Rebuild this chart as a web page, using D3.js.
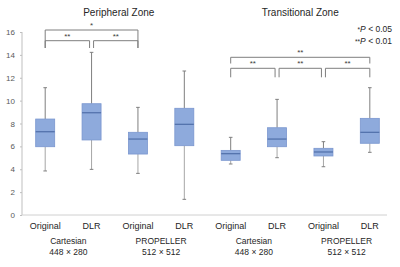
<!DOCTYPE html>
<html>
<head>
<meta charset="utf-8">
<script src="https://cdn.jsdelivr.net/npm/d3@7"></script>
<style>
  body { margin: 0; background: #fff; }
  svg { font-family: "Liberation Sans", Arial, sans-serif; }
  .axis path, .axis line { stroke: #bfbfbf; }
  .axis text { fill: #595959; font-size: 8px; }
</style>
</head>
<body>
<svg id="chart" width="400" height="267"></svg>
<script>
// box stats per group: [whiskerLow, q1, median, q3, whiskerHigh]
const groups = ['PZ-Cart-Orig', 'PZ-Cart-DLR', 'PZ-Prop-Orig', 'PZ-Prop-DLR',
                'TZ-Cart-Orig', 'TZ-Cart-DLR', 'TZ-Prop-Orig', 'TZ-Prop-DLR'];
const methodLabels = ['Original', 'DLR', 'Original', 'DLR', 'Original', 'DLR', 'Original', 'DLR'];
const boxStats = [
  [3.85, 5.97, 7.28, 8.39, 11.13],
  [3.99, 6.56, 8.94, 9.73, 14.22],
  [3.64, 5.33, 6.64, 7.23, 9.41],
  [1.37, 6.06, 7.93, 9.33, 12.59],
  [4.46, 4.78, 5.36, 5.65, 6.79],
  [5.01, 5.97, 6.64, 7.63, 10.11],
  [4.22, 5.16, 5.51, 5.83, 6.41],
  [5.48, 6.27, 7.23, 8.45, 11.13]
];
const yTicks = [0, 2, 4, 6, 8, 10, 12, 14, 16];
const sequences = [
  { label: 'Cartesian', size: '448 × 280', from: 0, to: 1 },
  { label: 'PROPELLER', size: '512 × 512', from: 2, to: 3 },
  { label: 'Cartesian', size: '448 × 280', from: 4, to: 5 },
  { label: 'PROPELLER', size: '512 × 512', from: 6, to: 7 }
];
const zones = [
  { label: 'Peripheral Zone', from: 0, to: 3 },
  { label: 'Transitional Zone', from: 4, to: 7 }
];
// significance brackets between groups
const brackets = [
  { from: 0, to: 2, y: 30, legEnd: 48, text: '*' },
  { from: 0, to: 1, y: 40.7, legEnd: 48, text: '**', trimR: true },
  { from: 1, to: 2, y: 40.7, legEnd: 48, text: '**', trimL: true },
  { from: 4, to: 7, y: 57.3, legEnd: 63.5, text: '**' },
  { from: 4, to: 5, y: 68.3, legEnd: 77.3, text: '**', trimR: true },
  { from: 5, to: 6, y: 68.3, legEnd: 77.3, text: '**', trimL: true, trimR: true },
  { from: 6, to: 7, y: 68.3, legEnd: 77.3, text: '**', trimL: true }
];

const svg = d3.select('#chart');
const margin = { top: 32, left: 22, right: 7, bottom: 52 };
const W = 400 - margin.left - margin.right;
const H = 267 - margin.top - margin.bottom;

const x = d3.scaleBand().domain(groups).range([margin.left, margin.left + W]);
const y = d3.scaleLinear().domain([0, 16]).range([margin.top + H, margin.top]);
const cx = i => x(groups[i]) + x.bandwidth() / 2;
const boxW = 19;

// y axis
const yAxis = svg.append('g').attr('class', 'axis')
  .attr('transform', `translate(${margin.left},0)`)
  .call(d3.axisLeft(y).tickValues(yTicks).tickSize(2).tickPadding(5));
yAxis.select('.domain').attr('d', `M0,${y(16)}V${y(0)}`);

// x axis line
svg.append('line')
  .attr('x1', margin.left).attr('x2', margin.left + W - 6)
  .attr('y1', y(0)).attr('y2', y(0))
  .attr('stroke', '#d0d0d0');

// boxes
const g = svg.append('g');
boxStats.forEach((s, i) => {
  const c = cx(i);
  const [lo, q1, med, q3, hi] = s;
  g.append('line').attr('x1', c).attr('x2', c).attr('y1', y(q3)).attr('y2', y(hi))
    .attr('stroke', '#7f7f7f').attr('stroke-width', 1);
  g.append('line').attr('x1', c).attr('x2', c).attr('y1', y(q1)).attr('y2', y(lo))
    .attr('stroke', '#a6a6a6').attr('stroke-width', 1);
  [hi, lo].forEach(v => {
    g.append('line').attr('x1', c - 1.8).attr('x2', c + 1.8).attr('y1', y(v)).attr('y2', y(v))
      .attr('stroke', '#7f7f7f').attr('stroke-width', 1);
  });
  g.append('rect')
    .attr('x', c - boxW / 2).attr('width', boxW)
    .attr('y', y(q3)).attr('height', y(q1) - y(q3))
    .attr('fill', '#8eaadc').attr('stroke', '#7a96cf').attr('stroke-width', 0.8);
  g.append('line').attr('x1', c - boxW / 2).attr('x2', c + boxW / 2)
    .attr('y1', y(med)).attr('y2', y(med))
    .attr('stroke', '#4f6ea8').attr('stroke-width', 1.2);
});

// brackets
brackets.forEach(b => {
  const x1 = cx(b.from) + (b.trimL ? 2 : 0);
  const x2 = cx(b.to) - (b.trimR ? 2 : 0);
  svg.append('path')
    .attr('d', `M${x1},${b.legEnd}V${b.y}H${x2}V${b.legEnd}`)
    .attr('fill', 'none').attr('stroke', '#7f7f7f').attr('stroke-width', 1);
  svg.append('text')
    .attr('x', (x1 + x2) / 2).attr('y', b.y - 2)
    .attr('text-anchor', 'middle').attr('font-size', 8).attr('fill', '#404040')
    .text(b.text);
});

// method labels
svg.selectAll('.method').data(methodLabels).enter().append('text')
  .attr('x', (d, i) => cx(i)).attr('y', y(0) + 14)
  .attr('text-anchor', 'middle').attr('font-size', 9).attr('fill', '#262626')
  .text(d => d);

// sequence labels
sequences.forEach(s => {
  const c = (cx(s.from) + cx(s.to)) / 2;
  svg.append('text').attr('x', c).attr('y', y(0) + 29)
    .attr('text-anchor', 'middle').attr('font-size', 8.5).attr('fill', '#262626').text(s.label);
  svg.append('text').attr('x', c).attr('y', y(0) + 40)
    .attr('text-anchor', 'middle').attr('font-size', 8.5).attr('fill', '#262626').text(s.size);
});

// zone titles
zones.forEach((z, i) => {
  svg.append('text').attr('x', (cx(z.from) + cx(z.to)) / 2 + (i === 0 ? 4 : 0)).attr('y', 16)
    .attr('text-anchor', 'middle').attr('font-size', 10).attr('fill', '#262626').text(z.label);
});

// p-value legend
const leg = svg.append('g').attr('font-size', 8.5).attr('fill', '#262626').attr('text-anchor', 'end');
[['*', '0.05', 32], ['**', '0.01', 44]].forEach(([s, p, yy]) => {
  const t = leg.append('text').attr('x', 392).attr('y', yy);
  t.append('tspan').attr('font-size', 6.5).text(s);
  t.append('tspan').attr('font-style', 'italic').text('P');
  t.append('tspan').text(' < ' + p);
});
</script>
</body>
</html>
